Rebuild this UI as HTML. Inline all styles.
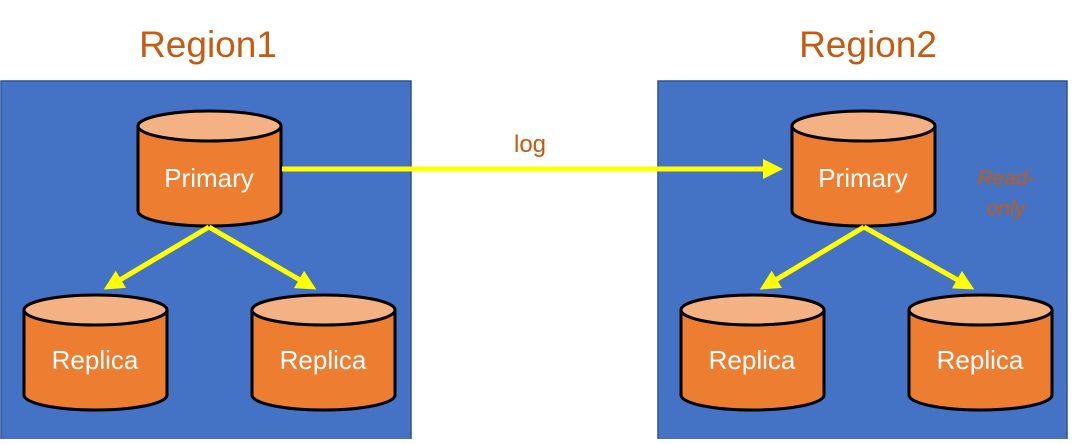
<!DOCTYPE html>
<html><head><style>body{margin:0;background:#fff}</style></head><body>
<svg width="1080" height="439" xmlns="http://www.w3.org/2000/svg" font-family="Liberation Sans, sans-serif">
<defs>
<marker id="ah" markerWidth="4" markerHeight="4" refX="3" refY="2" orient="auto" markerUnits="strokeWidth"><path d="M0,0 L4,2 L0,4 z" fill="#ffff00"/></marker>
<g id="cyl">
<path d="M0,15 L0,100 A71.5,15 0 0 0 143,100 L143,15" fill="#ed7d31" stroke="#000" stroke-width="3"/>
<ellipse cx="71.5" cy="15" rx="71.5" ry="15" fill="#f4b183" stroke="#000" stroke-width="3"/>
</g>
</defs>
<text x="208" y="57" font-size="37" fill="#c55a11" text-anchor="middle">Region1</text>
<text x="868" y="57" font-size="37" fill="#c55a11" text-anchor="middle">Region2</text>
<rect x="1" y="81" width="410" height="360" fill="#4472c4" stroke="#2f528f" stroke-width="1.5"/>
<rect x="658" y="81" width="409" height="360" fill="#4472c4" stroke="#2f528f" stroke-width="1.5"/>
<use href="#cyl" x="138" y="111"/>
<use href="#cyl" x="24" y="295"/>
<use href="#cyl" x="252" y="295"/>
<use href="#cyl" x="792" y="111"/>
<use href="#cyl" x="681" y="295"/>
<use href="#cyl" x="909" y="295"/>
<g fill="#fff" font-size="26" text-anchor="middle">
<text x="209" y="187">Primary</text>
<text x="95" y="369">Replica</text>
<text x="323" y="369">Replica</text>
<text x="863" y="187">Primary</text>
<text x="752" y="369">Replica</text>
<text x="980" y="369">Replica</text>
</g>
<g stroke="#ffff00" stroke-width="5" fill="none" marker-end="url(#ah)">
<line x1="282" y1="169" x2="778" y2="169"/>
<line x1="209" y1="227" x2="108" y2="287"/>
<line x1="209" y1="227" x2="312" y2="287"/>
<line x1="864" y1="227" x2="764" y2="287"/>
<line x1="864" y1="227" x2="970" y2="287"/>
</g>
<text x="530" y="152" font-size="24" fill="#c55a11" text-anchor="middle">log</text>
<g font-size="21" font-style="italic" fill="#c55a11" text-anchor="middle">
<text x="1006" y="185">Read-</text>
<text x="1006" y="215">only</text>
</g>
</svg>
</body></html>
